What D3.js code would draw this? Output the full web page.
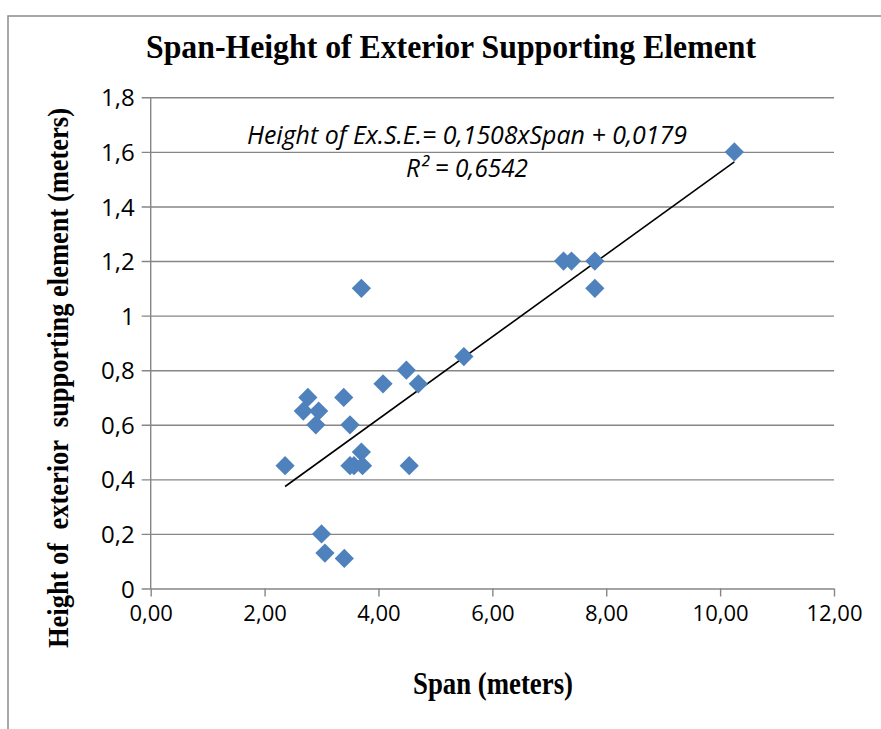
<!DOCTYPE html>
<head>
  <meta charset="utf-8">
  <style>
    body { margin: 0; background: #fff; }
    .tick text { font-family: 'Open Sans', sans-serif; font-size: 24px; fill: #000; }
    .xaxis .tick text { font-size: 22px; }
    .serif { font-family: 'Liberation Serif', 'Times New Roman', serif; font-weight: bold; white-space: pre; }
  </style>
</head>
<body>
  <script src="https://cdn.jsdelivr.net/npm/d3@7"></script>
  <script>
    // data
    const spanM   = [2.36, 2.68, 2.76, 2.95, 2.90, 3.39, 3.50, 3.70, 3.50, 3.57, 3.72, 4.54,
                     3.00, 3.06, 3.40, 4.08, 4.49, 4.70, 3.70, 5.50, 7.25, 7.39, 7.80, 7.80, 10.25];
    const heightM = [0.45, 0.65, 0.70, 0.65, 0.60, 0.70, 0.60, 0.50, 0.45, 0.45, 0.45, 0.45,
                     0.20, 0.13, 0.11, 0.75, 0.80, 0.75, 1.10, 0.85, 1.20, 1.20, 1.20, 1.10, 1.60];
    const xTicks = [0, 2, 4, 6, 8, 10, 12];
    const xTickLabels = ["0,00", "2,00", "4,00", "6,00", "8,00", "10,00", "12,00"];
    const yTicks = [0, 0.2, 0.4, 0.6, 0.8, 1, 1.2, 1.4, 1.6, 1.8];
    const yTickLabels = ["0", "0,2", "0,4", "0,6", "0,8", "1", "1,2", "1,4", "1,6", "1,8"];
    const slope = 0.1508, intercept = 0.0179;

    const width = 881, height = 729;
    const svg = d3.select("body").append("svg")
      .attr("width", width)
      .attr("height", height);

    // outer frame (cut by the picture edge)
    svg.append("path")
      .attr("d", "M8,729 V16 H881")
      .attr("fill", "none")
      .attr("stroke", "#8c8c8c")
      .attr("stroke-width", 1.5);

    const x = d3.scaleLinear().domain([0, 12]).range([150.7, 834]);
    const y = d3.scaleLinear().domain([0, 1.8]).range([588.5, 97.3]);

    // gridlines + y axis
    const yAxis = d3.axisLeft(y)
      .tickValues(yTicks)
      .tickSize(-(x.range()[1] - x.range()[0]) )
      .tickSizeOuter(0)
      .tickPadding(16)
      .tickFormat((d, i) => yTickLabels[i]);
    const gy = svg.append("g")
      .attr("transform", "translate(" + x.range()[0] + ",0)")
      .call(yAxis);
    gy.select(".domain").remove();
    gy.selectAll(".tick line")
      .attr("x1", -9)
      .attr("stroke", "#868686")
      .attr("stroke-width", 1.4);
    gy.selectAll(".tick text").attr("dy", "0.36em");

    const xAxis = d3.axisBottom(x)
      .tickValues(xTicks)
      .tickSize(8)
      .tickSizeOuter(0)
      .tickPadding(9)
      .tickFormat((d, i) => xTickLabels[i]);
    const gx = svg.append("g")
      .attr("class", "xaxis")
      .attr("transform", "translate(0," + y(0) + ")")
      .call(xAxis);
    gx.select(".domain").remove();
    gx.selectAll(".tick line").attr("stroke", "#868686").attr("stroke-width", 1.4);

    // y axis line
    svg.append("line")
      .attr("x1", x(0)).attr("x2", x(0))
      .attr("y1", y(1.8)).attr("y2", y(0))
      .attr("stroke", "#868686")
      .attr("stroke-width", 1.4);

    // trendline from the fitted equation over the data range
    const xmin = d3.min(spanM), xmax = d3.max(spanM);
    svg.append("line")
      .attr("x1", x(xmin)).attr("y1", y(slope * xmin + intercept))
      .attr("x2", x(xmax)).attr("y2", y(slope * xmax + intercept))
      .attr("stroke", "#000")
      .attr("stroke-width", 1.6);

    // diamonds
    const diamond = d3.symbol().type(d3.symbolSquare).size(185);
    svg.append("g").selectAll("path")
      .data(spanM.map((s, i) => [s, heightM[i]]))
      .join("path")
      .attr("d", diamond)
      .attr("transform", d => "translate(" + x(d[0]) + "," + y(d[1]) + ") rotate(45)")
      .attr("fill", "#4F81BD");

    // titles
    svg.append("text")
      .attr("class", "serif")
      .attr("x", 451).attr("y", 58)
      .attr("text-anchor", "middle")
      .attr("font-size", 34)
      .attr("textLength", 610)
      .attr("lengthAdjust", "spacingAndGlyphs")
      .text("Span-Height of Exterior Supporting Element");

    svg.append("text")
      .attr("class", "serif")
      .attr("x", 493).attr("y", 694)
      .attr("text-anchor", "middle")
      .attr("font-size", 31)
      .attr("textLength", 160)
      .attr("lengthAdjust", "spacingAndGlyphs")
      .text("Span (meters)");

    svg.append("text")
      .attr("class", "serif")
      .attr("transform", "translate(68,378) rotate(-90)")
      .attr("text-anchor", "middle")
      .attr("font-size", 29)
      .attr("textLength", 540)
      .attr("lengthAdjust", "spacingAndGlyphs")
      .text("Height of  exterior  supporting element (meters)");

    // trendline label
    svg.append("text")
      .attr("x", 467).attr("y", 144)
      .attr("text-anchor", "middle")
      .attr("font-family", "'Open Sans', sans-serif")
      .attr("font-style", "italic")
      .attr("font-size", 25)
      .attr("textLength", 440)
      .attr("lengthAdjust", "spacingAndGlyphs")
      .text("Height of Ex.S.E.= 0,1508xSpan + 0,0179");
    svg.append("text")
      .attr("x", 467).attr("y", 177)
      .attr("text-anchor", "middle")
      .attr("font-family", "'Open Sans', sans-serif")
      .attr("font-style", "italic")
      .attr("font-size", 25)
      .attr("textLength", 122)
      .attr("lengthAdjust", "spacingAndGlyphs")
      .text("R² = 0,6542");
  </script>
</body>
